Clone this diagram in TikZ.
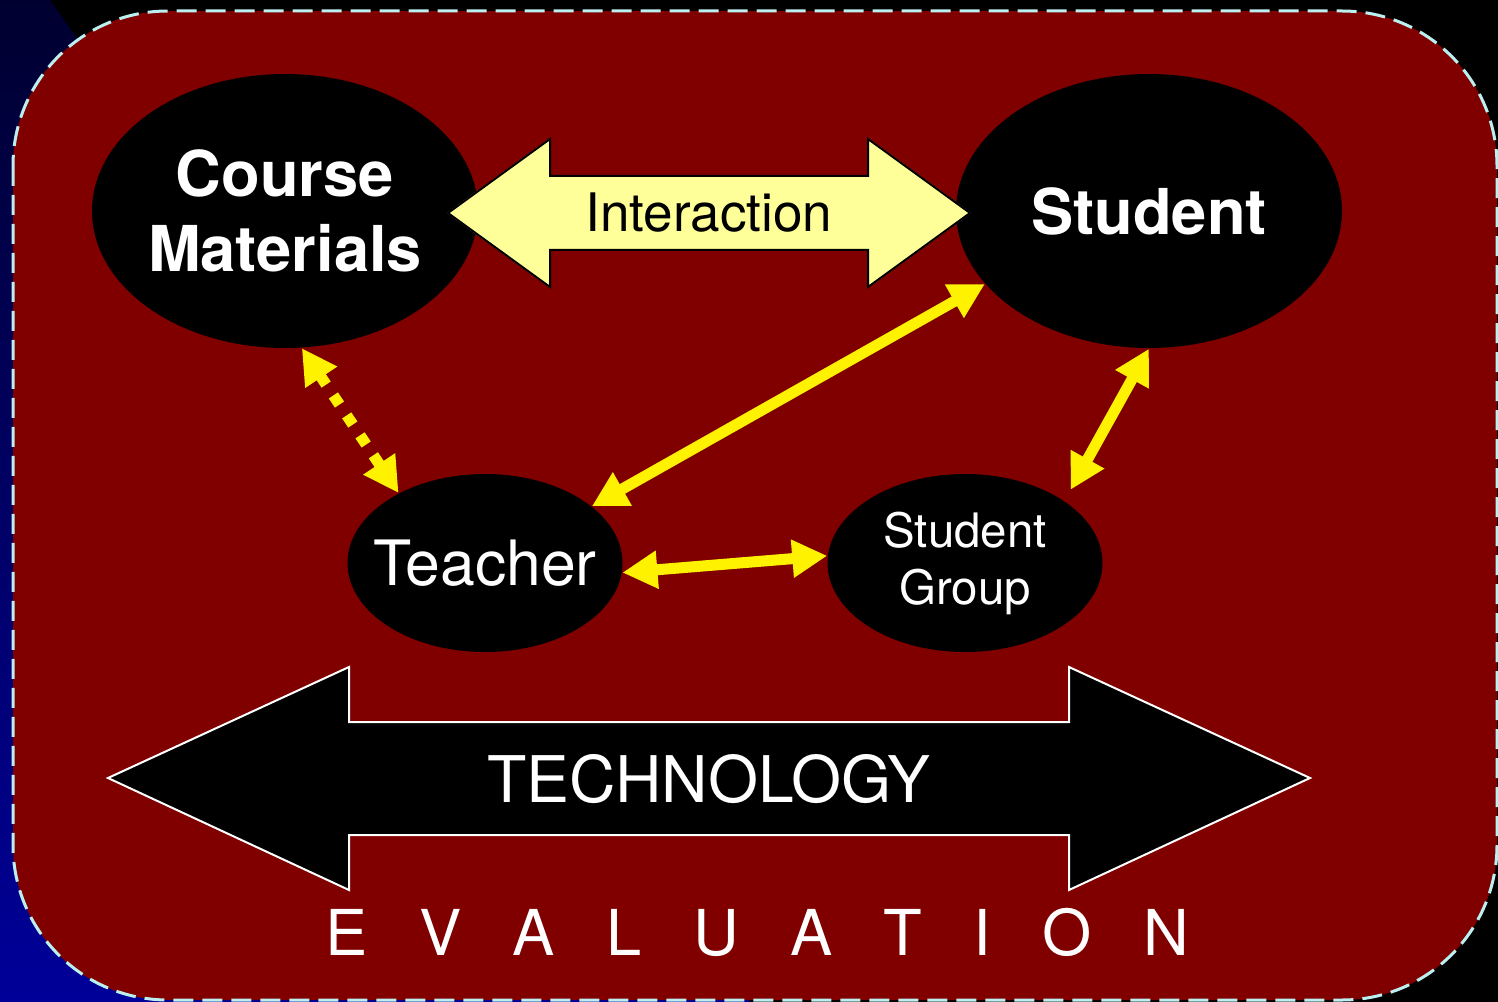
\documentclass[tikz,border=0pt]{standalone}
\usepackage{fontspec}
\setmainfont{TeX Gyre Heros}
\usetikzlibrary{arrows.meta,positioning,shapes.geometric}
\definecolor{panelred}{HTML}{800000}
\definecolor{pale}{HTML}{FFFF99}
\definecolor{rim}{HTML}{BCF0F0}
\definecolor{navytop}{HTML}{000030}
\definecolor{navybot}{HTML}{000099}
\tikzset{
  blob/.style={ellipse,fill=black,inner sep=0pt},
  bigtxt/.style={white,font=\bfseries\fontsize{18}{21.3}\selectfont,align=center},
  plaintxt/.style={white,font=\fontsize{17.8}{21}\selectfont,align=center},
  smalltxt/.style={white,font=\fontsize{13.5}{16.2}\selectfont,align=center},
  evtxt/.style={white,font=\fontsize{18}{21}\selectfont,inner sep=0pt},
  link/.style={yellow,line width=0.11cm,{Triangle[length=0.35cm,width=0.36cm]}-{Triangle[length=0.35cm,width=0.36cm]}}
}
\begin{document}
\begin{tikzpicture}
    \useasboundingbox (0,0) rectangle (14.98,-10.02);
    \fill[black] (0,0) rectangle (14.98,-10.02);
    \shade[top color=navytop,bottom color=navybot] (0,0) -- (0.5,0) -- (7.5,-10.02) -- (0,-10.02) -- cycle;
    \draw[rim,fill=panelred,line width=0.03cm,dash pattern=on 0.2cm off 0.09cm,rounded corners=1.55cm] (0.13,-0.11) rectangle (14.97,-10.0);

    \node[blob,minimum width=3.86cm,minimum height=2.74cm,label={[bigtxt]center:{Course\\Materials}}] (materials) at (2.85,-2.11) {};
    \node[blob,minimum width=3.86cm,minimum height=2.74cm,label={[bigtxt]center:Student}] (student) at (11.49,-2.11) {};
    \node[blob,minimum width=2.75cm,minimum height=1.78cm,label={[plaintxt]center:Teacher}] (teacher) at (4.85,-5.63) {};
    \node[blob,minimum width=2.75cm,minimum height=1.78cm,label={[smalltxt]center:{Student\\Group}}] (group) at (9.65,-5.63) {};

    \draw[pale,fill=pale] (4.48,-2.13) -- (5.50,-1.39) -- (5.50,-1.76) -- (8.68,-1.76) -- (8.68,-1.39) -- (9.70,-2.13)
        -- (8.68,-2.87) -- (8.68,-2.50) -- (5.50,-2.50) -- (5.50,-2.87) -- cycle;
    \draw[black,line width=0.02cm] (4.48,-2.13) -- (5.50,-1.39) -- (5.50,-1.76) -- (8.68,-1.76) -- (8.68,-1.39) -- (9.70,-2.13)
        -- (8.68,-2.87) -- (8.68,-2.50) -- (5.50,-2.50) -- (5.50,-2.87) -- cycle;
    \node[font=\fontsize{15.1}{18}\selectfont] (interaction) at (7.09,-2.13) {Interaction};

    \draw[link,dash pattern=on 0.11cm off 0.13cm] (materials.-83) -- (teacher.141);
    \draw[link] (teacher.28) -- (student.204);
    \draw[link] (student.270) -- ([shift={(0.06,0.11)}]group.32);
    \draw[link] (teacher.-4) -- (group.177);

    \draw[white,fill=black,line width=0.02cm] (1.08,-7.78) -- (3.49,-6.67) -- (3.49,-7.22) -- (10.69,-7.22) -- (10.69,-6.67) -- (13.10,-7.78)
        -- (10.69,-8.90) -- (10.69,-8.35) -- (3.49,-8.35) -- (3.49,-8.90) -- cycle;
    \node[white,font=\fontsize{18.3}{21}\selectfont] (technology) at (7.09,-7.79) {TECHNOLOGY};

    \node[evtxt,anchor=base west] (ev0) at (3.25,-9.55) {E};
    \foreach \ch [count=\i,remember=\i as \j (initially 0)] in {V,A,L,U,A,T,I,O,N}
        \node[evtxt,base right=0.50cm of ev\j] (ev\i) {\ch};
\end{tikzpicture}
\end{document}
